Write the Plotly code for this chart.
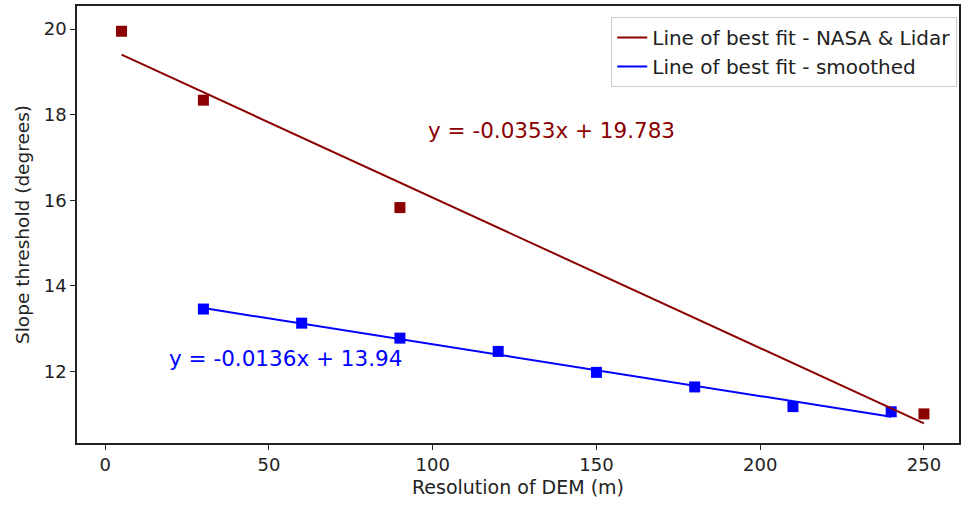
import numpy as np
import plotly.graph_objects as go

# Data
nasa_x = [5, 30, 90, 250]
nasa_y = [19.95, 18.34, 15.83, 11.01]
smooth_x = [30, 60, 90, 120, 150, 180, 210, 240]
smooth_y = [13.46, 13.13, 12.78, 12.47, 11.98, 11.64, 11.18, 11.06]

nasa_label = "Line of best fit - NASA & Lidar"
smooth_label = "Line of best fit - smoothed"
nasa_eq = "y = -0.0353x + 19.783"
smooth_eq = "y = -0.0136x + 13.94"

x_ticks = [0, 50, 100, 150, 200, 250]
y_ticks = [12, 14, 16, 18, 20]

RED = "#8b0000"
BLUE = "#0000ff"
FONT = "DejaVu Sans"

# least-squares fit lines from the data
nasa_fit = np.polyfit(nasa_x, nasa_y, 1)
smooth_fit = np.polyfit(smooth_x, smooth_y, 1)
nasa_line_x = [min(nasa_x), max(nasa_x)]
smooth_line_x = [min(smooth_x), max(smooth_x)]

fig = go.Figure()
fig.add_trace(go.Scatter(x=nasa_x, y=nasa_y, mode="markers",
                         marker=dict(symbol="square", size=11, color=RED),
                         showlegend=False))
fig.add_trace(go.Scatter(x=smooth_x, y=smooth_y, mode="markers",
                         marker=dict(symbol="square", size=11, color=BLUE),
                         showlegend=False))
fig.add_trace(go.Scatter(x=nasa_line_x, y=list(np.polyval(nasa_fit, nasa_line_x)),
                         mode="lines", line=dict(color=RED, width=2),
                         name=nasa_label))
fig.add_trace(go.Scatter(x=smooth_line_x, y=list(np.polyval(smooth_fit, smooth_line_x)),
                         mode="lines", line=dict(color=BLUE, width=2),
                         name=smooth_label))

fig.add_annotation(x=98, y=17.64, xref="x", yref="y", text=nasa_eq, showarrow=False,
                   xanchor="left", yanchor="middle",
                   font=dict(family=FONT, size=21.5, color=RED))
fig.add_annotation(x=18.8, y=12.31, xref="x", yref="y", text=smooth_eq, showarrow=False,
                   xanchor="left", yanchor="middle",
                   font=dict(family=FONT, size=21.5, color=BLUE))

axis_common = dict(showgrid=False, zeroline=False, showline=True, mirror=True,
                   linecolor="#222", linewidth=1.5, ticks="outside", ticklen=5,
                   tickwidth=1.2, tickcolor="#222",
                   tickfont=dict(family=FONT, size=18, color="#222"))

fig.update_layout(
    width=962, height=509,
    margin=dict(l=77, r=1, t=6, b=66),
    paper_bgcolor="white", plot_bgcolor="white",
    font=dict(family=FONT, color="#222"),
    xaxis=dict(range=[-8.6, 260.7], tickvals=x_ticks,
               title=dict(text="Resolution of DEM (m)", font=dict(family=FONT, size=19), standoff=6),
               **axis_common),
    yaxis=dict(range=[10.33, 20.54], tickvals=y_ticks,
               title=dict(text="Slope threshold (degrees)", font=dict(family=FONT, size=18.5), standoff=9),
               **axis_common),
    legend=dict(x=0.998, y=0.975, xanchor="right", yanchor="top",
                bgcolor="white", bordercolor="#cccccc", borderwidth=1,
                font=dict(family=FONT, size=20, color="#222"),
                tracegroupgap=0),
)

html = fig.to_html(full_html=True, include_plotlyjs=True,
                   config={"displayModeBar": False})
html = html.replace("<body>", '<body style="margin:0;padding:0;overflow:hidden">', 1)
with open("out.html", "w", encoding="utf-8") as f:
    f.write(html)
